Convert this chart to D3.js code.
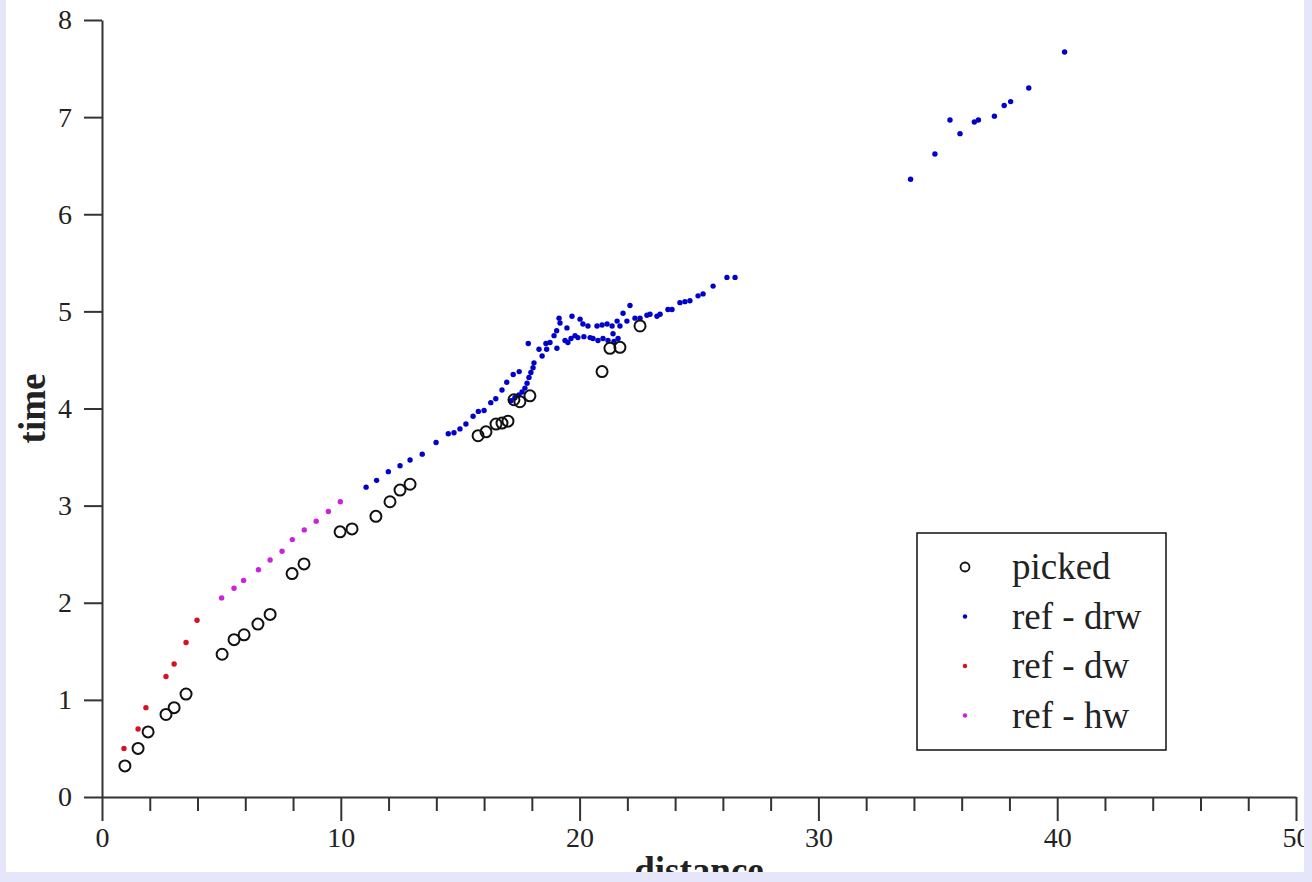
<!DOCTYPE html>
<meta charset="utf-8">
<html lang="en">
<head>
    <meta charset="utf-8">
    <style>
        body { margin: 0; background: #e6e6fa; }
        svg { display: block; }
        text { font-family: "Liberation Serif", "Times New Roman", serif; fill: #222; }
    </style>
</head>
<body>
    <div id="my_dataviz"></div>
    <script src="https://d3js.org/d3.v7.min.js"></script>
    <script>
        // picked arrivals [distance, time]
        var picked = [
            [0.96, 0.32], [1.51, 0.50], [1.93, 0.67], [2.68, 0.85], [3.02, 0.92], [3.52, 1.06],
            [5.03, 1.47], [5.53, 1.62], [5.95, 1.67], [6.53, 1.78], [7.04, 1.88],
            [7.96, 2.30], [8.46, 2.40], [9.97, 2.73], [10.47, 2.76], [11.47, 2.89],
            [12.06, 3.04], [12.48, 3.16], [12.90, 3.22], [15.75, 3.72], [16.08, 3.76],
            [16.50, 3.84], [16.75, 3.85], [17.00, 3.87], [17.25, 4.09], [17.50, 4.07],
            [17.92, 4.13], [20.94, 4.38], [21.27, 4.62], [21.69, 4.63], [22.53, 4.85]
        ];

        // reference - drw
        var refDrw = [
            [11.06, 3.19], [11.50, 3.26], [11.99, 3.35], [12.48, 3.41], [12.90, 3.47],
            [13.41, 3.53], [13.99, 3.65], [14.50, 3.74], [14.74, 3.75], [14.99, 3.79],
            [15.24, 3.84], [15.54, 3.92], [15.76, 3.97], [16.00, 3.98], [16.28, 4.06],
            [16.49, 4.10], [16.75, 4.19], [16.95, 4.27], [17.22, 4.35], [17.47, 4.38],
            [17.13, 4.08], [17.29, 4.11], [17.46, 4.14], [17.59, 4.17], [17.71, 4.21],
            [17.80, 4.26], [17.88, 4.32], [17.96, 4.37], [18.05, 4.42], [18.09, 4.47],
            [17.85, 4.67], [18.30, 4.61], [18.43, 4.54], [18.59, 4.67], [18.62, 4.61],
            [18.76, 4.68], [18.93, 4.75], [19.04, 4.80], [19.05, 4.62], [19.14, 4.93],
            [19.18, 4.88], [19.39, 4.70], [19.47, 4.83], [19.51, 4.68], [19.64, 4.72],
            [19.68, 4.95], [19.81, 4.75], [19.93, 4.73], [20.02, 4.92], [20.14, 4.87],
            [20.18, 4.74], [20.35, 4.85], [20.44, 4.73], [20.56, 4.72], [20.73, 4.85],
            [20.77, 4.70], [20.94, 4.86], [20.98, 4.72], [21.15, 4.87], [21.19, 4.70],
            [21.36, 4.85], [21.40, 4.77], [21.44, 4.69], [21.57, 4.90], [21.61, 4.72],
            [21.69, 4.85], [21.82, 4.98], [21.98, 4.90], [22.11, 5.06], [22.32, 4.93],
            [22.53, 4.93], [22.82, 4.96], [22.95, 4.97], [23.24, 4.95], [23.37, 4.97],
            [23.70, 5.02], [23.87, 5.02], [24.20, 5.09], [24.41, 5.10], [24.62, 5.11],
            [24.96, 5.16], [25.17, 5.18], [25.59, 5.26], [26.17, 5.35], [26.51, 5.35],
            [33.86, 6.36], [34.88, 6.62], [35.51, 6.97], [35.93, 6.83], [36.53, 6.95],
            [36.70, 6.97], [37.37, 7.01], [37.78, 7.12], [38.05, 7.16], [38.81, 7.30],
            [40.31, 7.67]
        ];

        // reference - dw
        var refDw = [
            [0.92, 0.50], [1.51, 0.70], [1.84, 0.92], [2.68, 1.24], [3.02, 1.37],
            [3.52, 1.59], [3.98, 1.82]
        ];

        // reference - hw
        var refHw = [
            [5.01, 2.05], [5.53, 2.15], [5.93, 2.23], [6.55, 2.34], [7.04, 2.44],
            [7.54, 2.53], [7.97, 2.65], [8.47, 2.75], [8.97, 2.84], [9.48, 2.94],
            [9.98, 3.04]
        ];

        var legendNames = ["picked", "ref - drw", "ref - dw", "ref - hw"];
        var xMajor = [0, 10, 20, 30, 40, 50];
        var yTicks = [0, 1, 2, 3, 4, 5, 6, 7, 8];

        var W = 1312, H = 882;
        var svg = d3.select("#my_dataviz")
            .append("svg")
            .attr("width", W)
            .attr("height", H);

        svg.append("rect").attr("width", W).attr("height", H).attr("fill", "#e6e6fa");

        svg.append("clipPath").attr("id", "panel")
            .append("rect").attr("x", 6).attr("y", 0).attr("width", 1298).attr("height", 872);

        var g = svg.append("g").attr("clip-path", "url(#panel)");
        g.append("rect").attr("x", 6).attr("y", 0).attr("width", 1298).attr("height", 872).attr("fill", "white");

        var x = d3.scaleLinear().domain([0, 50]).range([102, 1296]);
        var y = d3.scaleLinear().domain([0, 8]).range([797, 20]);

        // x axis, major + minor ticks
        var xMinor = d3.range(2, 50, 2).filter(function (d) { return d % 10 !== 0 });
        g.append("g")
            .attr("transform", "translate(0," + y(0) + ")")
            .call(d3.axisBottom(x).tickValues(xMinor).tickSize(14).tickSizeOuter(0).tickFormat(""))
            .call(function (a) { a.select(".domain").remove() })
            .selectAll("line").attr("stroke", "#333").attr("stroke-width", 2);
        var xAx = g.append("g")
            .attr("transform", "translate(0," + y(0) + ")")
            .call(d3.axisBottom(x).tickValues(xMajor).tickSize(24).tickSizeOuter(0).tickPadding(6).tickFormat(d3.format("d")));
        xAx.selectAll("line").attr("stroke", "#333").attr("stroke-width", 2);
        xAx.select(".domain").attr("stroke", "#333").attr("stroke-width", 2);
        xAx.selectAll("text").style("font-size", "28px").attr("fill", "#333");

        var yAx = g.append("g")
            .attr("transform", "translate(" + x(0) + ",0)")
            .call(d3.axisLeft(y).tickValues(yTicks).tickSize(18).tickSizeOuter(0).tickPadding(12).tickFormat(d3.format("d")));
        yAx.selectAll("line").attr("stroke", "#333").attr("stroke-width", 2);
        yAx.select(".domain").attr("stroke", "#333").attr("stroke-width", 2);
        yAx.selectAll("text").style("font-size", "28px").attr("fill", "#333");

        // axis titles
        g.append("text")
            .attr("transform", "translate(45," + ((y(0) + y(8)) / 2) + ") rotate(-90)")
            .attr("text-anchor", "middle")
            .style("font-size", "37px").style("font-weight", "bold")
            .text("time");
        g.append("text")
            .attr("x", (x(0) + x(50)) / 2).attr("y", 883)
            .attr("text-anchor", "middle")
            .style("font-size", "37px").style("font-weight", "bold")
            .text("distance");

        // dot series
        var dotSeries = [
            { data: refDrw, color: "#0000cc" },
            { data: refDw, color: "#d81020" },
            { data: refHw, color: "#cc22dd" }
        ];
        dotSeries.forEach(function (s) {
            g.append("g").selectAll("circle")
                .data(s.data)
                .enter()
                .append("circle")
                .attr("cx", function (d) { return x(d[0]) })
                .attr("cy", function (d) { return y(d[1]) })
                .attr("r", 2.7)
                .attr("fill", s.color);
        });

        // picked circles
        g.append("g").selectAll("circle")
            .data(picked)
            .enter()
            .append("circle")
            .attr("cx", function (d) { return x(d[0]) })
            .attr("cy", function (d) { return y(d[1]) })
            .attr("r", 5.5)
            .attr("fill", "none")
            .attr("stroke", "#111")
            .attr("stroke-width", 2);

        // legend
        var leg = g.append("g");
        leg.append("rect")
            .attr("x", 917).attr("y", 533).attr("width", 249).attr("height", 217)
            .attr("fill", "white").attr("stroke", "#111").attr("stroke-width", 1.5);
        var legColors = [null, "#0000cc", "#d81020", "#cc22dd"];
        legendNames.forEach(function (name, i) {
            var cy = 567 + i * 49.5;
            if (i === 0) {
                leg.append("circle").attr("cx", 965).attr("cy", cy).attr("r", 4.5)
                    .attr("fill", "none").attr("stroke", "#111").attr("stroke-width", 1.8);
            } else {
                leg.append("circle").attr("cx", 965).attr("cy", cy).attr("r", 2.2)
                    .attr("fill", legColors[i]);
            }
            leg.append("text")
                .attr("x", 1012).attr("y", cy)
                .attr("dy", "0.33em")
                .style("font-size", "37px")
                .text(name);
        });
    </script>
</body>
</html>
